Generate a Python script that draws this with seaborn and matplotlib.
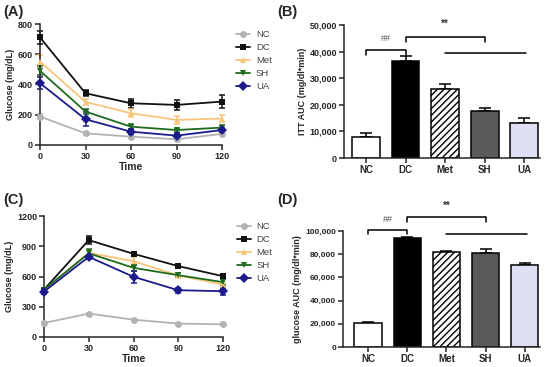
import numpy as np
import pandas as pd
import matplotlib
matplotlib.use("Agg")
import matplotlib.pyplot as plt
import seaborn as sns
from matplotlib.ticker import FuncFormatter

sns.set_style("ticks")
plt.rcParams['font.family'] = ['Liberation Sans', 'DejaVu Sans']

# data
groups = ["NC", "DC", "Met", "SH", "UA"]
times = [0, 30, 60, 90, 120]

itt_mean = {
    "NC": [188, 77, 55, 38, 73],
    "DC": [711, 342, 276, 265, 287],
    "Met": [552, 285, 210, 166, 175],
    "SH": [490, 221, 121, 99, 115],
    "UA": [409, 170, 88, 62, 99],
}
itt_err = {
    "NC": [15, 10, 10, 10, 10],
    "DC": [45, 20, 30, 35, 45],
    "Met": [45, 20, 25, 25, 25],
    "SH": [30, 15, 15, 10, 15],
    "UA": [40, 45, 15, 15, 15],
}
ogtt_mean = {
    "NC": [139, 232, 172, 133, 126],
    "DC": [470, 961, 825, 703, 603],
    "Met": [460, 835, 752, 610, 520],
    "SH": [470, 830, 686, 613, 544],
    "UA": [450, 795, 597, 464, 454],
}
ogtt_err = {
    "NC": [10, 10, 10, 10, 10],
    "DC": [15, 40, 20, 15, 25],
    "Met": [15, 30, 40, 20, 20],
    "SH": [15, 40, 30, 20, 30],
    "UA": [20, 20, 60, 25, 35],
}
itt_auc = [8000, 36400, 25900, 17600, 13200]
itt_auc_err = [1500, 1900, 2100, 1300, 1900]
glu_auc = [20600, 94000, 82000, 81300, 70400]
glu_auc_err = [1000, 800, 1100, 3000, 1800]

line_colors = {"NC": "#b3b3b3", "DC": "#111111", "Met": "#f7c57c",
               "SH": "#1e6b1e", "UA": "#1b1b8c"}
line_markers = {"NC": "o", "DC": "s", "Met": "^", "SH": "v", "UA": "D"}
bar_colors = ["#ffffff", "#000000", "#ffffff", "#5a5c58", "#dcdcf7"]

W, H = 550, 367
fig = plt.figure(figsize=(5.5, 3.67), dpi=100)


def px_rect(left, right, top, bottom):
    return [left / W, (H - bottom) / H, (right - left) / W, (bottom - top) / H]


def style_axis(ax):
    sns.despine(ax=ax)
    for s in ["left", "bottom"]:
        ax.spines[s].set_linewidth(1.1)
    ax.tick_params(direction="out", length=3.5, width=1.1, labelsize=6.5, pad=1.5)
    for lab in ax.get_xticklabels() + ax.get_yticklabels():
        lab.set_fontweight("bold")


def line_panel(rect, mean, err, ylim, yticks, ylabel):
    ax = fig.add_axes(rect)
    rows = []
    for g in groups:
        for t, v in zip(times, mean[g]):
            rows.append({"Time": t, "Glucose": v, "group": g})
    df = pd.DataFrame(rows)
    sns.lineplot(data=df, x="Time", y="Glucose", hue="group", style="group",
                 hue_order=groups, style_order=groups, palette=line_colors,
                 markers=line_markers, dashes=False, markersize=5,
                 markeredgewidth=0, linewidth=1.3, ax=ax, clip_on=False, zorder=3)
    for g in groups:
        ax.errorbar(times, mean[g], yerr=err[g], fmt="none", ecolor=line_colors[g],
                    elinewidth=1.1, capsize=2.5, capthick=1.1, clip_on=False, zorder=2)
    ax.set_xlim(0, 120)
    ax.set_ylim(*ylim)
    ax.set_xticks(times)
    ax.set_yticks(yticks)
    ax.set_xlabel("Time", fontsize=7.5, fontweight="bold", labelpad=1)
    ax.set_ylabel(ylabel, fontsize=6.5, fontweight="bold", labelpad=2)
    ax.legend(loc="upper left", bbox_to_anchor=(1.03, 1.02), frameon=False,
              fontsize=6.8, handlelength=1.5, labelspacing=0.42, handletextpad=0.6,
              labelcolor="#444444")
    style_axis(ax)
    return ax


def bar_panel(rect, vals, errs, xlim, ylim, ystep, ylabel, marks, labelsize):
    ax = fig.add_axes(rect)
    sns.barplot(x=groups, y=vals, hue=groups, palette=bar_colors, legend=False,
                edgecolor="black", linewidth=1.1, width=0.7, ax=ax, zorder=2)
    ax.patches[2].set_hatch("/////")
    ax.errorbar(range(len(groups)), vals, yerr=[np.zeros(len(errs)), errs],
                fmt="none", ecolor="black", elinewidth=1.1, capsize=4,
                capthick=1.1, zorder=1)
    ax.set_xlim(*xlim)
    ax.set_ylim(*ylim)
    ax.set_yticks(np.arange(0, ylim[1] + 1, ystep))
    ax.yaxis.set_major_formatter(FuncFormatter(lambda v, p: f"{int(v):,}"))
    ax.set_ylabel(ylabel, fontsize=6.5, fontweight="bold", labelpad=2)
    style_axis(ax)
    ax.tick_params(axis="y", labelsize=labelsize)
    ax.tick_params(axis="x", labelsize=7)
    # significance brackets
    (b1, b1t, b2, b2t, ln, hy, sy) = marks
    kw = dict(color="black", lw=1.1, clip_on=False)
    ax.plot([0, 0, 1, 1], [b1t, b1, b1, b1t], **kw)
    ax.plot([1, 1, 3, 3], [b2t, b2, b2, b2t], **kw)
    ax.plot([2.0, 4.05], [ln, ln], **kw)
    ax.text(0.5, hy, "##", ha="center", va="center", fontsize=6.5, color="#555555")
    ax.text(2.0, sy, "**", ha="center", va="center", fontsize=7, fontweight="bold",
            color="#333333")
    return ax


line_panel(px_rect(40, 222, 24, 145), itt_mean, itt_err,
           (0, 800), [0, 200, 400, 600, 800], "Glucose (mg/dL)")
line_panel(px_rect(44, 223, 216, 337), ogtt_mean, ogtt_err,
           (0, 1200), [0, 300, 600, 900, 1200], "Glucose (mg/dL)")

bar_panel(px_rect(344, 540, 25, 158), itt_auc, itt_auc_err,
          (-0.56, 4.4), (0, 50000), 10000, "ITT AUC (mg/dl*min)",
          (40600, 38800, 45500, 43600, 39500, 44800, 50500), 6.5)
bar_panel(px_rect(343, 540, 231, 347), glu_auc, glu_auc_err,
          (-0.64, 4.39), (0, 100000), 20000, "glucose AUC (mg/dl*min)",
          (100900, 97500, 112000, 108000, 97400, 110000, 121500), 6)

for letter, x, y in [("(A)", 3, 12), ("(B)", 277, 12), ("(C)", 3, 200), ("(D)", 277, 200)]:
    fig.text(x / W, 1 - y / H, letter, fontsize=10.5, fontweight="bold",
             ha="left", va="center")

fig.savefig("out.png", dpi=100)
